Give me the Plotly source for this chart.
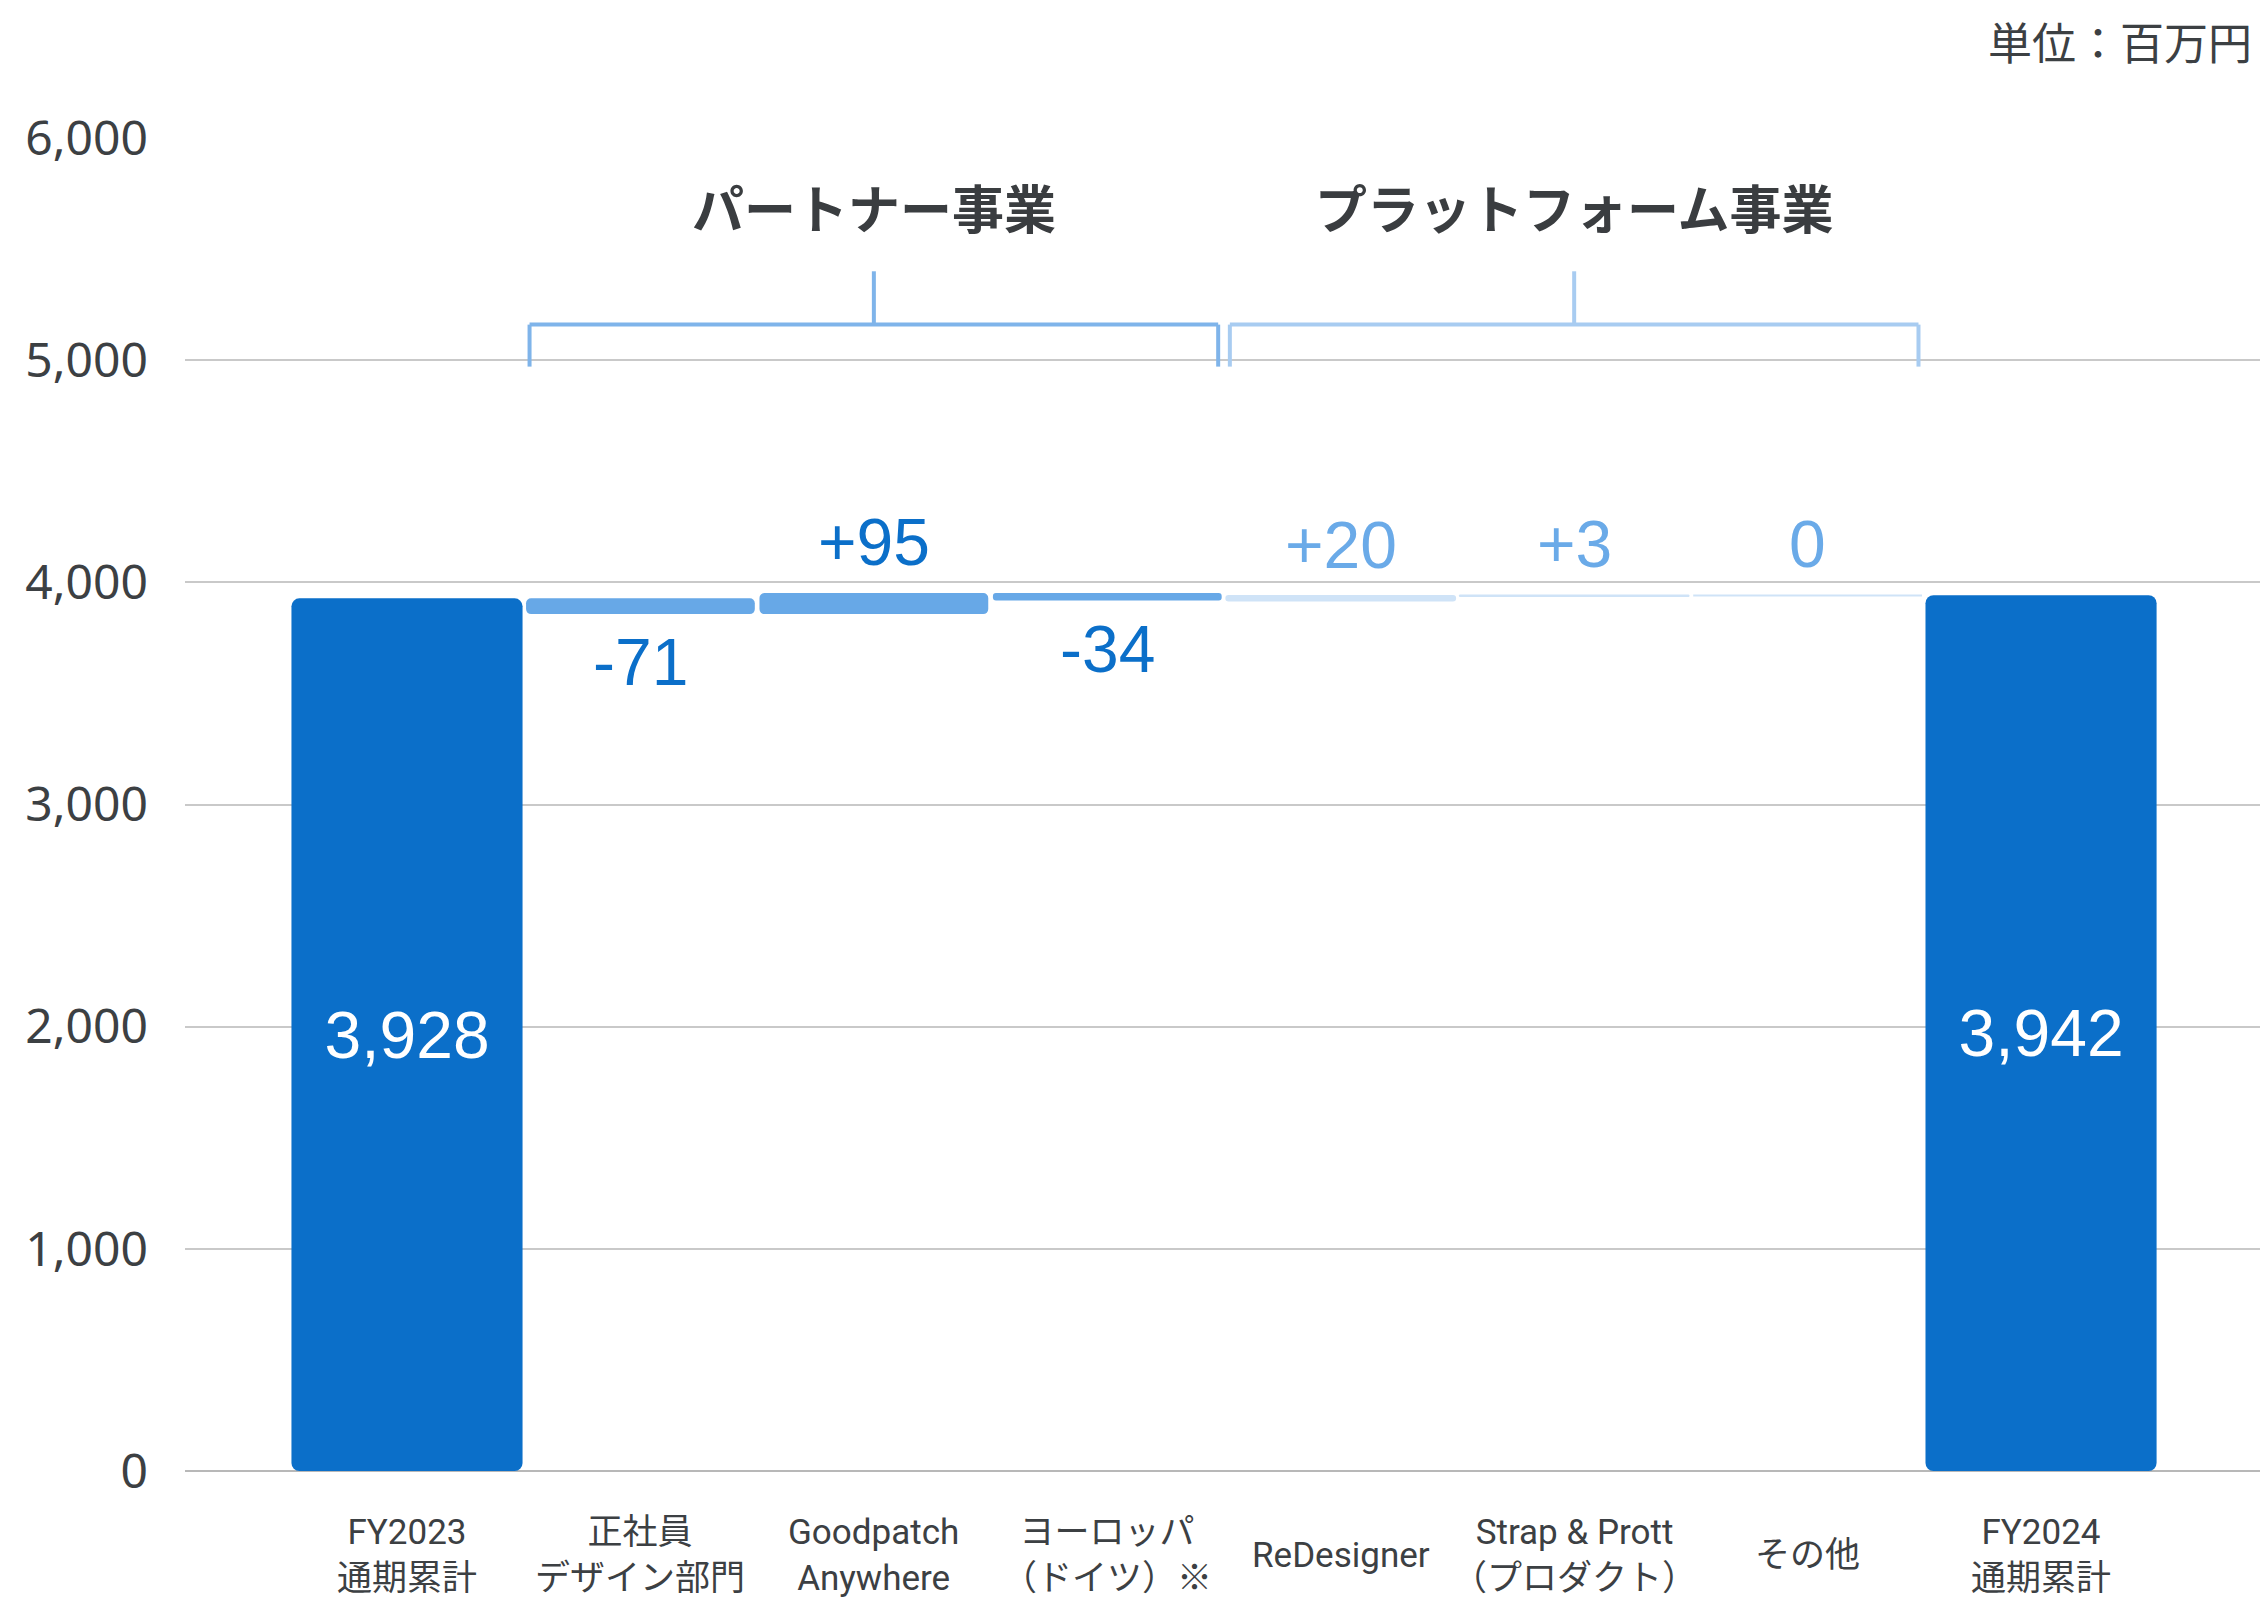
import plotly.graph_objects as go

# ---------------- data ----------------
categories = [
    "FY2023<br>通期累計",
    "正社員<br>デザイン部門",
    "Goodpatch<br>Anywhere",
    "ヨーロッパ<br>（ドイツ）※",
    "ReDesigner",
    "Strap & Prott<br>（プロダクト）",
    "その他",
    "FY2024<br>通期累計",
]
values = [3928, -71, 95, -34, 20, 3, 0, 3942]
kinds = ["total", "partner", "partner", "partner", "platform", "platform", "platform", "total"]
value_labels = ["3,928", "-71", "+95", "-34", "+20", "+3", "0", "3,942"]
groups = ["パートナー事業", "プラットフォーム事業"]
group_kinds = ["partner", "platform"]
unit_label = "単位：百万円"
y_ticks = [0, 1000, 2000, 3000, 4000, 5000, 6000]

# ---------------- styles ----------------
bar_colors = {"total": "#0B6FC9", "partner": "#67A8E7", "platform": "#CFE3F7"}
label_colors = {"partner": "#0B6FC9", "platform": "#6AAAE8"}
bracket_colors = {"partner": "#7FB4EA", "platform": "#A8CCF1"}
text_grey = "#3C4043"
CJK = "Noto Sans CJK JP"
CAT_FONT = "Roboto, Noto Sans CJK JP"
LAT = "Liberation Sans"

# waterfall geometry (base / height) from the values
bases, heights = [], []
running = 0
for v, k in zip(values, kinds):
    if k == "total":
        bases.append(0)
        heights.append(v)
        running = v
    else:
        bases.append(running)
        heights.append(v)
        running += v

tot_idx = [i for i, k in enumerate(kinds) if k == "total"]
d_idx = [i for i, k in enumerate(kinds) if k != "total"]

fig = go.Figure()

fig.add_trace(go.Bar(
    x=[categories[i] for i in tot_idx],
    y=[heights[i] for i in tot_idx],
    base=[bases[i] for i in tot_idx],
    width=0.99,
    marker=dict(color=bar_colors["total"], cornerradius=8, line=dict(width=0)),
    text=[value_labels[i] for i in tot_idx],
    textposition="inside",
    insidetextanchor="middle",
    textangle=0,
    textfont=dict(family=LAT, size=66, color="white"),
    hoverinfo="skip",
    showlegend=False,
))

fig.add_trace(go.Bar(
    x=[categories[i] for i in d_idx],
    y=[heights[i] for i in d_idx],
    base=[bases[i] for i in d_idx],
    width=0.98,
    marker=dict(
        color=[bar_colors[kinds[i]] for i in d_idx],
        cornerradius=5,
        line=dict(
            color=[bar_colors[kinds[i]] for i in d_idx],
            width=[2 if kinds[i] == "platform" else 0 for i in d_idx],
        ),
    ),
    hoverinfo="skip",
    showlegend=False,
))

annotations = []
# delta value labels
for i in d_idx:
    v = values[i]
    end = bases[i] + heights[i]
    if v >= 0:
        annotations.append(dict(
            x=categories[i], y=end, xref="x", yref="y",
            text=value_labels[i], showarrow=False,
            yanchor="bottom", yshift=12,
            font=dict(family=LAT, size=66, color=label_colors[kinds[i]]),
        ))
    else:
        annotations.append(dict(
            x=categories[i], y=end, xref="x", yref="y",
            text=value_labels[i], showarrow=False,
            yanchor="top", yshift=-9,
            font=dict(family=LAT, size=66, color=label_colors[kinds[i]]),
        ))

# category labels (centred vertically below the axis)
for c in categories:
    annotations.append(dict(
        x=c, y=0, xref="x", yref="paper",
        text=c, showarrow=False, yanchor="middle", yshift=-84,
        font=dict(family=CAT_FONT, size=35, color=text_grey),
    ))

# group brackets and titles
shapes = []
for g, gk in zip(groups, group_kinds):
    members = [i for i, k in enumerate(kinds) if k == gk]
    first, last = min(members), max(members)
    mid = (first + last) / 2
    x0, x1 = first - 0.475, last + 0.475
    col = bracket_colors[gk]
    ln = dict(color=col, width=4)
    y_h, y_b, y_t = 0.860, 0.8285, 0.900
    shapes += [
        dict(type="line", xref="x", yref="paper", x0=x0, x1=x1, y0=y_h, y1=y_h, line=ln),
        dict(type="line", xref="x", yref="paper", x0=x0, x1=x0, y0=y_b, y1=y_h, line=ln),
        dict(type="line", xref="x", yref="paper", x0=x1, x1=x1, y0=y_b, y1=y_h, line=ln),
        dict(type="line", xref="x", yref="paper", x0=mid, x1=mid, y0=y_h, y1=y_t, line=ln),
    ]
    annotations.append(dict(
        x=mid, y=0.9485, xref="x", yref="paper",
        text="<b>" + g + "</b>", showarrow=False, yanchor="middle",
        font=dict(family=CJK, size=52, color="#3A3D40"),
    ))

# unit label
annotations.append(dict(
    x=1, y=1.073, xref="paper", yref="paper", text=unit_label,
    showarrow=False, xanchor="right", yanchor="middle", xshift=-6,
    font=dict(family=CJK, size=44, color=text_grey),
))

fig.update_layout(
    width=2260, height=1598,
    margin=dict(l=185, r=0, t=138, b=127),
    paper_bgcolor="white", plot_bgcolor="white",
    barmode="overlay",
    annotations=annotations,
    shapes=shapes,
    xaxis=dict(
        type="category", categoryorder="array", categoryarray=categories,
        range=[-0.951, 7.938], showticklabels=False, showgrid=False,
        zeroline=False, showline=False, fixedrange=True,
    ),
    yaxis=dict(
        range=[0, 6000], tickvals=y_ticks, tickformat=",",
        showgrid=True, gridcolor="#C9C9C9", gridwidth=1.5,
        zeroline=True, zerolinecolor="#B8B8B8", zerolinewidth=2,
        showline=False, ticklabelstandoff=36, fixedrange=True,
        tickfont=dict(family="Noto Sans", size=48, color=text_grey),
    ),
)

fig.write_html(
    "out.html",
    config={"displayModeBar": False},
    post_script="document.body.style.margin='0';",
)
